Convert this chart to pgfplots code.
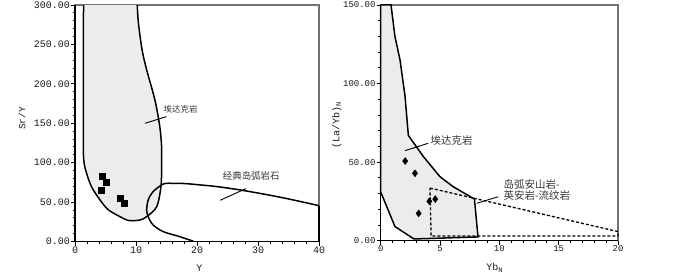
\documentclass[border=0pt]{standalone}
\usepackage{fontspec}
\usepackage{pgfplots}
\pgfplotsset{compat=1.18}
\newfontfamily\tickfont{Liberation Mono}
\newfontfamily\cjk{Noto Sans CJK SC}
\definecolor{fieldgray}{HTML}{ECECEC}
\pgfplotsset{
  common/.style={
    scale only axis, clip=false, anchor=south west,
    axis line style={draw=black!55, line width=1.1bp},
    tick align=outside, xtick pos=bottom, ytick pos=left,
    major tick length=4bp, minor tick length=2.5bp,
    tick style={black, line width=0.9bp},
    minor x tick num=4, minor y tick num=4,
    tick label style={text=black!90, inner sep=1pt},
    label style={text=black!90},
  },
  field/.style={draw=black, line width=1.5bp},
  leader/.style={black, line width=0.9bp},
}
\begin{document}
\begin{tikzpicture}[x=1bp,y=1bp]
\useasboundingbox (0,0) rectangle (700,272);
% ---------------- left panel ----------------
\begin{axis}[common,
  at={(75bp,30.5bp)}, width=244bp, height=236.5bp,
  xmin=0, xmax=40, ymin=0, ymax=300,
  xtick={0,10,20,30,40}, xticklabels={0,10,20,30,40},
  ytick={0,50,100,150,200,250,300},
  yticklabels={0.00,50.00,100.00,150.00,200.00,250.00,300.00},
  tick label style={font=\tickfont\fontsize{10}{10}\selectfont},
  xlabel={Y}, ylabel={Sr/Y},
  xlabel style={at={(rel axis cs:0.51,0)}, anchor=center, yshift=-26.5bp, font=\tickfont\fontsize{10}{10}\selectfont},
  ylabel style={at={(rel axis cs:0,0.52)}, anchor=center, yshift=53bp, font=\tickfont\fontsize{9.5}{10}\selectfont},
]
% adakite field
\addplot[field, fill=fieldgray, smooth] coordinates {
  (10.2,300) (10.4,277) (11.0,243) (11.75,217.6) (13.1,179.6) (13.9,145.7)
  (14.2,120) (14.2,95) (14.1,70) (13.4,44.2) (11.75,31.5) (10.66,27.3)
  (9.0,26.4) (7.9,29.4) (5.5,40) (4.1,52.7) (2.7,69.5) (1.9,86.5)
  (1.5,99) (1.37,116) (1.37,180) (1.37,250) (1.4,300)};
% classical island arc field
\addplot[field, smooth] coordinates {
  (40,45.5) (35,54) (31.4,59.5) (27,65.5) (23.2,69.7) (20.5,71.8) (18,73.5)
  (16.1,73.8) (14.5,73) (12.8,63.2) (12.0,52.7) (11.75,40) (12.0,31.5)
  (12.8,21) (14.5,12.4) (17.2,6.1) (19.4,0.3)};
\addplot[field] coordinates {(19.4,0.3) (40,0.3) (40,45.5)};
% leaders
\addplot[leader] coordinates {(11.5,150) (15.0,158.4)};
\addplot[leader] coordinates {(23.8,52.3) (28.0,67)};
% samples
\addplot[only marks, mark=square*, mark size=3bp, black] coordinates {
  (4.5,83) (5.1,75.3) (4.26,65) (7.38,54.8) (8.03,48)};
\node[anchor=west, inner sep=0, font=\cjk\fontsize{8.5}{9}\selectfont, text=black!80] at (axis cs:14.5,167.7) {埃达克岩};
\node[anchor=west, inner sep=0, font=\cjk\fontsize{9.5}{10}\selectfont, text=black!80] at (axis cs:24.2,83.1) {经典岛弧岩石};
\draw[black, line width=1.4bp] (rel axis cs:0,1) -- (rel axis cs:0,0) -- (rel axis cs:1,0);
\end{axis}
% ---------------- right panel ----------------
\begin{axis}[common,
  at={(380.7bp,31.3bp)}, width=237.3bp, height=235.7bp,
  xmin=0, xmax=20, ymin=0, ymax=150,
  xtick={0,5,10,15,20}, xticklabels={0,5,10,15,20},
  ytick={0,50,100,150},
  yticklabels={0.00,50.00,100.00,150.00},
  tick label style={font=\tickfont\fontsize{9}{9}\selectfont},
  xlabel={Yb\textsubscript{N}}, ylabel={(La/Yb)\textsubscript{N}},
  xlabel style={at={(rel axis cs:0.48,0)}, anchor=center, yshift=-27bp, font=\tickfont\fontsize{10}{10}\selectfont},
  ylabel style={at={(rel axis cs:0,0.49)}, anchor=center, yshift=44bp, font=\tickfont\fontsize{10}{10}\selectfont},
]
% adakite field
\addplot[field, fill=fieldgray] coordinates {
  (0,150) (0.87,150) (1.2,130) (1.63,115) (2.05,92) (2.33,67) (3.6,53.5)
  (5.0,40.7) (6.1,34.4) (7.9,26.5) (8.2,2.4) (2.8,1.1) (1.2,9) (0,31) (0,150)};
% island arc andesite-dacite-rhyolite field
\addplot[black, line width=1.3bp, dash pattern=on 3bp off 2bp] coordinates {
  (4.15,33.5) (20,5.8) (20,3.0) (4.25,3.0) (4.15,33.5)};
% leaders
\addplot[leader] coordinates {(2.05,57.3) (4.0,62)};
\addplot[leader] coordinates {(8.1,23.8) (9.9,28)};
% samples
\addplot[only marks, mark=diamond*, mark size=3.5bp, black] coordinates {
  (2.07,50.7) (2.89,42.9) (4.1,25.1) (4.6,26.5) (3.2,17.4)};
\node[anchor=west, inner sep=0, font=\cjk\fontsize{10.5}{11}\selectfont, text=black!80] at (axis cs:4.2,63.7) {埃达克岩};
\node[anchor=west, inner sep=0, align=left, font=\cjk\fontsize{10.5}{10.5}\selectfont, text=black!80] at (axis cs:10.35,32.3) {岛弧安山岩-\\英安岩-流纹岩};
\draw[black, line width=1.4bp] (rel axis cs:0,1) -- (rel axis cs:0,0) -- (rel axis cs:1,0);
\end{axis}
\end{tikzpicture}
\end{document}
